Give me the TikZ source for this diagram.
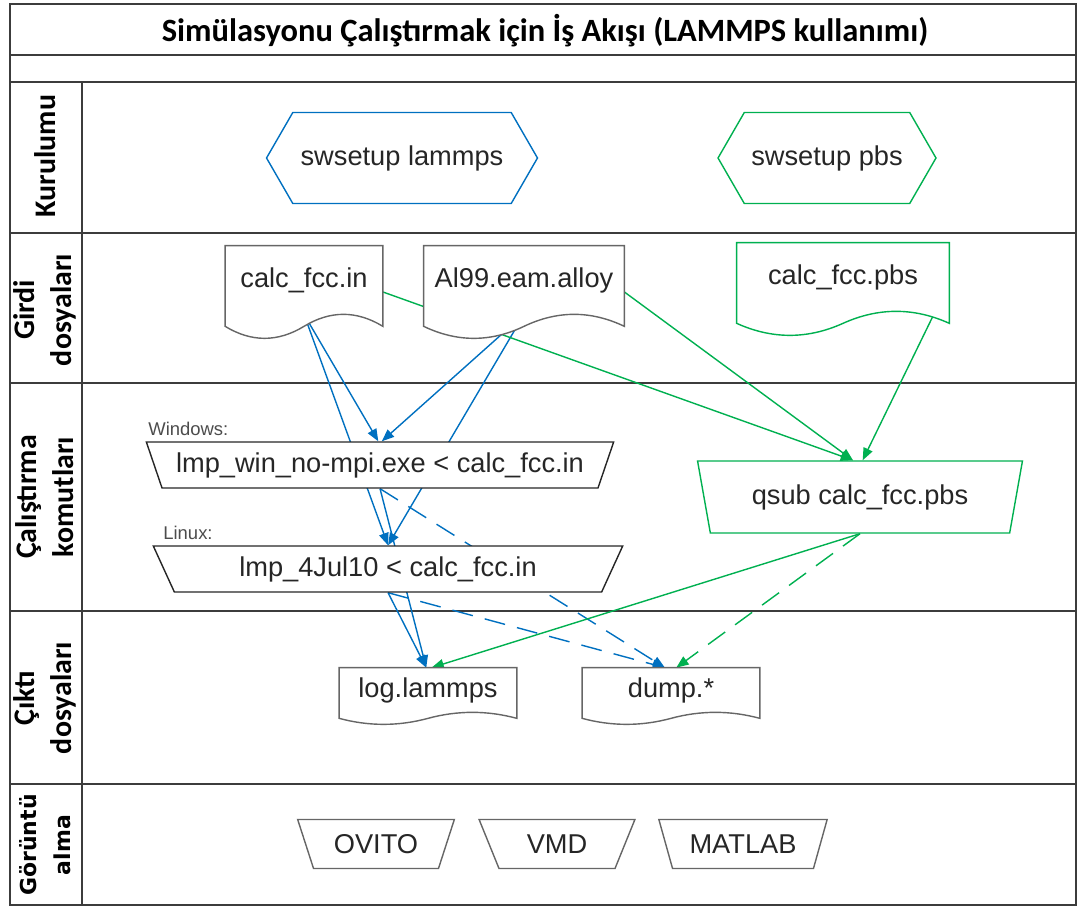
\documentclass[tikz,border=0pt]{standalone}
\usepackage{fontspec}
\setmainfont{Liberation Sans}
\newfontfamily\titlefont{Carlito}
\newfontfamily\widefont{DejaVu Sans}
\usetikzlibrary{positioning,shapes.geometric,shapes.symbols,arrows.meta,calc}

\definecolor{lblue}{RGB}{0,112,192}
\definecolor{lgreen}{RGB}{0,176,80}
\definecolor{gridgray}{RGB}{60,60,60}

\pgfdeclarelayer{grid}
\pgfdeclarelayer{edges}
\pgfdeclarelayer{docs}
\pgfsetlayers{grid,edges,docs,main}

\tikzset{
  lane/.style={ draw=gridgray, line width=1.3pt }
}
\tikzset{
  lanelbl/.style={ rotate=90, align=center, inner sep=0pt,
    font=\titlefont\bfseries\fontsize{17}{21}\selectfont }
}
\tikzset{
  txt/.style={ font=\fontsize{15.5}{18}\selectfont, text=black!85 }
}
\tikzset{
  hexbox/.style={ signal, signal to=east and west, signal pointer angle=120,
    draw=#1, fill=white, line width=0.8pt, txt, minimum height=1.82cm, inner sep=0pt }
}
\tikzset{
  docbox/.style={ txt, inner sep=0pt, minimum height=1.36cm }
}
\tikzset{
  cmdbox/.style={ trapezium, shape border rotate=180, trapezium stretches=true,
    draw=#1, fill=white, line width=0.8pt, txt, inner sep=0pt }
}
\tikzset{
  oslbl/.style={ font=\fontsize{10.5}{12}\selectfont, text=black!70, inner sep=0pt, anchor=base west }
}
\tikzset{
  flow/.style={ -{Triangle[length=7pt,width=5.5pt]}, line width=0.8pt, draw=#1 },
  dflow/.style={ flow=#1, dash pattern=on 12pt off 7pt }
}

% document outline with a wavy bottom
\newcommand{\docwave}[3]{%
  \draw[draw=#2, fill=white, line width=0.8pt]
    ($(#1.south west)+(0,#3)$) -- (#1.north west) -- (#1.north east) -- ($(#1.south east)+(0,#3)$)
    .. controls ($(#1.south east)!0.333!(#1.south)+(0,-0.333*#3)$) and ($(#1.south east)!0.667!(#1.south)+(0,-0.333*#3)$) .. ($(#1.south)+(0,#3)$)
    .. controls ($(#1.south)!0.333!(#1.south west)+(0,2.333*#3)$) and ($(#1.south)!0.667!(#1.south west)+(0,2.333*#3)$) .. ($(#1.south west)+(0,#3)$)
    -- cycle;}

\begin{document}
\begin{tikzpicture}[x=0.02cm, y=-0.02cm]
        \useasboundingbox (0,0) rectangle (1088,908);

        % lanes
        \begin{pgfonlayer}{grid}
          \draw[lane] (10,4) rectangle (1076,905);
          \foreach \yy in {55,82,233,383,611,784}
            \draw[lane] (10,\yy) -- (1076,\yy);
          \draw[lane] (82,82) -- (82,905);
        \end{pgfonlayer}

        \node[font=\titlefont\bfseries\fontsize{18.5}{20}\selectfont] (title) at (545,31) {Simülasyonu Çalıştırmak için İş Akışı (LAMMPS kullanımı)};

        \node[lanelbl] (l1) at (45,156) {Kurulumu};
        \node[lanelbl] (l2) at (45,310) {Girdi\\dosyaları};
        \node[lanelbl] (l3) at (45,497) {Çalıştırma\\komutları};
        \node[lanelbl] (l4) at (45,698) {Çıktı\\dosyaları};
        \node[lanelbl, font=\widefont\bfseries\fontsize{12.5}{19}\selectfont] (l5) at (45,845) {Görüntü\\alma};

        % setup
        \node[hexbox=lblue, minimum width=5.42cm] (swl) at (402,158) {swsetup lammps};
        \node[hexbox=lgreen, minimum width=4.36cm] (swp) at (827,158) {swsetup pbs};

        % input files
        \node[docbox, minimum width=3.14cm] (calcin) at (304,280) {calc\_fcc.in};
        \node[docbox, minimum width=4cm] (al99) at (524,280) {Al99.eam.alloy};
        \node[docbox, minimum width=4.24cm] (pbs) at (843,277) {calc\_fcc.pbs};

        % run commands
        \node[cmdbox=black!85, trapezium angle=60, minimum width=9.36cm, minimum height=0.92cm] (win) at (380,465) {lmp\_win\_no-mpi.exe < calc\_fcc.in};
        \node[cmdbox=black!85, trapezium angle=60, minimum width=9.4cm, minimum height=0.92cm] (linux) at (388,569) {lmp\_4Jul10 < calc\_fcc.in};
        \node[cmdbox=lgreen, trapezium angle=70, minimum width=6.5cm, minimum height=1.44cm] (qsub) at (860,497) {qsub calc\_fcc.pbs};
        \node[oslbl] (winlbl) at ($(win.north)+(-232,-6)$) {Windows:};
        \node[oslbl] (linuxlbl) at ($(linux.north)+(-225,-6)$) {Linux:};

        % output files
        \node[docbox, minimum width=3.54cm, minimum height=0.88cm] (log) at (428,690) {log.lammps};
        \node[docbox, minimum width=3.54cm, minimum height=0.88cm] (dump) at (671,690) {dump.*};

        % viewers
        \node[cmdbox=black!60, trapezium angle=61, minimum width=3.14cm, minimum height=0.98cm] (ovito) at (376,844) {OVITO};
        \node[cmdbox=black!60, trapezium angle=61, minimum width=3.12cm, minimum height=0.98cm] (vmd) at (557,844) {VMD};
        \node[cmdbox=black!60, trapezium angle=61, minimum width=3.38cm, minimum height=0.98cm] (matlab) at (743,844) {MATLAB};

        \begin{pgfonlayer}{docs}
          \docwave{calcin}{black!60}{12}
          \docwave{al99}{black!60}{12}
          \docwave{pbs}{lgreen}{12}
          \docwave{log}{black!60}{6}
          \docwave{dump}{black!60}{6}
        \end{pgfonlayer}

        \begin{pgfonlayer}{edges}
          \draw[flow=lblue] (calcin.south) -- ([xshift=-1pt]win.north);
          \draw[flow=lblue] (calcin.south) -- (linux.north);
          \draw[flow=lblue] (al99.south) -- ([xshift=1pt]win.north);
          \draw[flow=lblue] (al99.south) -- (linux.north);
          \draw[flow=lblue] (win.south) -- ([xshift=-1pt]log.north);
          \draw[flow=lblue] (linux.south) -- ([xshift=-1pt]log.north);
          \draw[dflow=lblue] (win.south) -- ([xshift=-3.5pt]dump.north);
          \draw[dflow=lblue] (linux.south) -- ([xshift=-3.5pt]dump.north);
          \draw[flow=lgreen] ([yshift=-6.8pt]calcin.east) -- ([xshift=-4pt]qsub.north);
          \draw[flow=lgreen] ([yshift=-6.8pt]al99.east) -- ([xshift=-4pt]qsub.north);
          \draw[flow=lgreen] ([xshift=-8pt]pbs.south east) -- ([xshift=1.5pt]qsub.north);
          \draw[flow=lgreen] (qsub.south) -- ([xshift=2pt]log.north);
          \draw[dflow=lgreen] (qsub.south) -- ([xshift=3pt]dump.north);
        \end{pgfonlayer}
      \end{tikzpicture}
\end{document}
